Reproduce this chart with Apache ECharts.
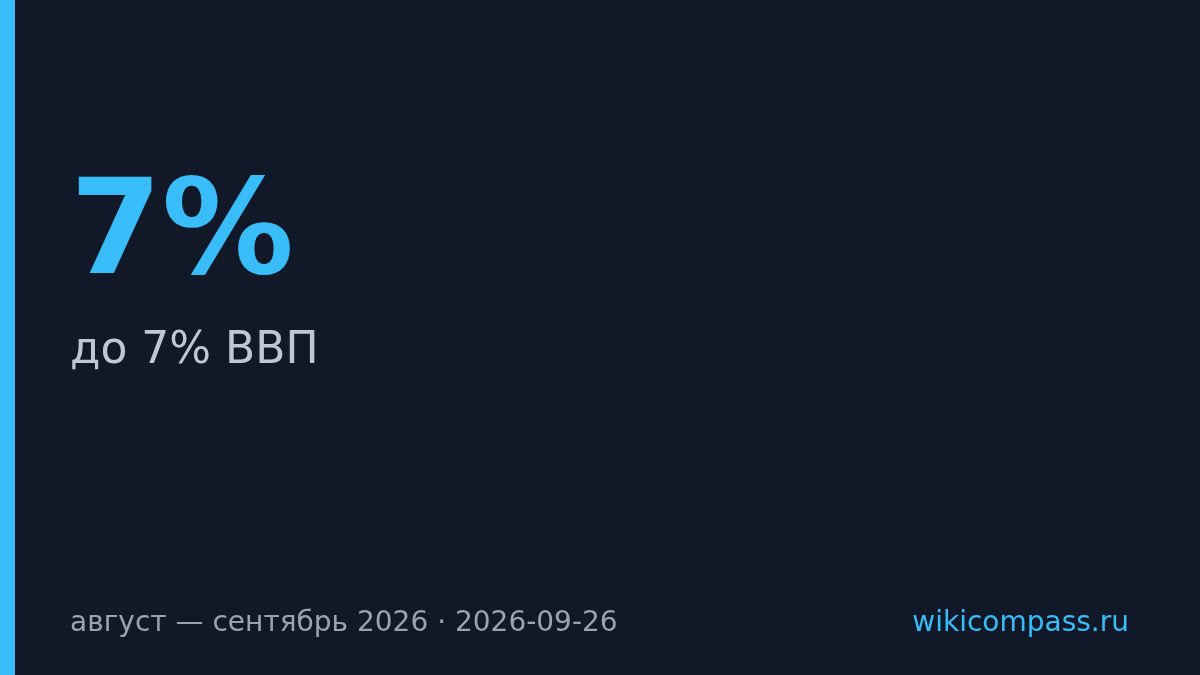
<!DOCTYPE html>
<html>
<head>
<meta charset="utf-8">
<script src="https://cdn.jsdelivr.net/npm/echarts@6/dist/echarts.min.js"></script>
<style>
  html, body { margin: 0; padding: 0; background: #111827; }
  #main { width: 1200px; height: 675px; }
</style>
</head>
<body>
<div id="main"></div>
<script>
// данные карточки
var bigValue = ['7%'];
var subLabel = ['до 7% ВВП'];
var footerLeft = ['август — сентябрь 2026 · 2026-09-26'];
var footerRight = ['wikicompass.ru'];

var accent = '#38bdf8';
var font = 'DejaVu Sans';

var chart = echarts.init(document.getElementById('main'), null, { renderer: 'canvas' });

// y — верх строки текста
var option = {
  backgroundColor: '#111827',
  graphic: [
    {
      type: 'rect',
      left: 0, top: 0,
      shape: { width: 15, height: 675 },
      style: { fill: accent }
    },
    {
      type: 'text',
      x: 70, y: 173,
      style: {
        text: bigValue[0],
        fill: accent,
        font: 'bold 132px "' + font + '"'
      }
    },
    {
      type: 'text',
      x: 70, y: 330,
      style: {
        text: subLabel[0],
        fill: '#bfc6d6',
        font: '44px "' + font + '"'
      }
    },
    {
      type: 'text',
      x: 70, y: 610,
      style: {
        text: footerLeft[0],
        fill: '#9ca3af',
        font: '28px "' + font + '"'
      }
    },
    {
      type: 'text',
      x: 1129, y: 610,
      style: {
        text: footerRight[0],
        fill: accent,
        font: '28px "' + font + '"',
        align: 'right'
      }
    }
  ]
};

chart.setOption(option);
</script>
</body>
</html>
